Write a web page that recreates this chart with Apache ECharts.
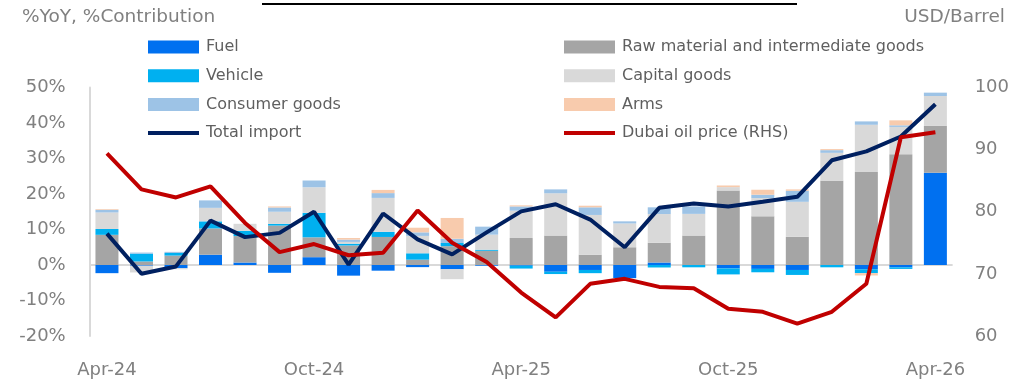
<!DOCTYPE html>
<html>
<head>
<meta charset="utf-8">
<script src="https://cdn.jsdelivr.net/npm/echarts@6/dist/echarts.min.js"></script>
<style>
html,body{margin:0;padding:0;background:#fff;}
#chart{width:1012px;height:379px;}
</style>
</head>
<body>
<div id="chart"></div>
<script>
const categories = ['Apr-24','May-24','Jun-24','Jul-24','Aug-24','Sep-24','Oct-24','Nov-24','Dec-24','Jan-25','Feb-25','Mar-25','Apr-25','May-25','Jun-25','Jul-25','Aug-25','Sep-25','Oct-25','Nov-25','Dec-25','Jan-26','Feb-26','Mar-26','Apr-26'];
const fuel     = [-2.3,-0.2,-0.9, 2.9, 0.7,-2.2, 2.2,-3.0,-1.6,-0.6,-1.2,-0.2,-0.2,-1.9,-1.4,-3.7, 0.7, 0.0,-0.95,-1.1,-1.4, 0.0,-1.2,-0.65,26.0];
const rawMat   = [ 8.5, 1.0, 2.65,7.4, 7.45,11.1,5.6, 5.5, 7.9, 1.5, 5.3, 4.0, 7.6, 8.3, 2.9, 5.0, 5.55,8.3, 21.0,13.7, 7.95,23.7,26.2,31.2,13.2];
const vehicle  = [ 1.65,2.2, 0.75,2.0, 1.45,0.5, 6.9, 0.5, 1.45,1.8, 0.9, 0.3,-0.8,-0.65,-0.9,0.0,-0.7,-0.65,-1.7,-0.95,-1.4,-0.65,-1.1,-0.45,0.0];
const capital  = [ 4.65,-1.9,-0.3,3.8, 2.0, 3.4, 7.2, 0.5, 9.55,4.9,-2.8, 4.25,7.7,11.9,11.2, 6.7, 8.1, 6.1, 0.95,5.15, 9.85,7.9,13.3, 7.7, 8.4];
const consumer = [ 0.75,0.3, 0.3, 2.1, 0.0, 1.2, 1.9, 0.65,1.35,1.0, 1.2, 2.25,1.2, 1.1, 2.15,0.6, 1.9, 2.1, 0.0, 0.95, 3.1, 0.75,0.95,0.45,0.95];
const arms     = [ 0.2, 0.0, 0.0, 0.0, 0.0, 0.3, 0.0, 0.45,0.9, 1.3, 5.85,0.0, 0.3, 0.0, 0.45,0.0, 0.0, 0.0, 0.45,1.4, 0.4, 0.3,-0.65,1.4, 0.0];
const totalImport = [8.85,-2.45,-0.4,12.5,7.85,9.05,15.0,0.1,14.5,7.2,3.0,9.2,15.1,17.1,12.8,5.0,16.1,17.3,16.5,17.8,19.2,29.5,32.0,36.2,45.3];
const dubaiOil = [89.4,83.6,82.3,84.1,78.2,73.5,74.8,73.0,73.4,80.2,75.0,71.9,67.0,63.0,68.4,69.2,67.9,67.7,64.4,63.9,62.0,63.9,68.4,92.0,92.8];
const leftTicks = {min:-20, max:50, interval:10};
const rightTicks = {min:60, max:100, interval:10};

const FONT = 'DejaVu Sans';
const chart = echarts.init(document.getElementById('chart'), null, {renderer:'canvas'});

function barSeries(name, data, color) {
  return {name, type:'bar', stack:'c', data, barWidth:23, yAxisIndex:0,
    itemStyle:{color}, emphasis:{disabled:true}};
}
const series = [
  barSeries('Fuel', fuel, '#0070F0'),
  barSeries('Raw material and intermediate goods', rawMat, '#A5A5A5'),
  barSeries('Vehicle', vehicle, '#00B0F0'),
  barSeries('Capital goods', capital, '#D9D9D9'),
  barSeries('Consumer goods', consumer, '#9DC3E6'),
  barSeries('Arms', arms, '#F8CBAD'),
  {name:'Total import', type:'line', data: totalImport, yAxisIndex:0, symbol:'none',
    lineStyle:{color:'#002060', width:4}, itemStyle:{color:'#002060'}, z:5},
  {name:'Dubai oil price (RHS)', type:'line', data: dubaiOil, yAxisIndex:1, symbol:'none',
    lineStyle:{color:'#C00000', width:4}, itemStyle:{color:'#C00000'}, z:6}
];
series[0].markLine = {silent:true, symbol:['none','none'], label:{show:false},
  lineStyle:{color:'#D9D9D9', width:2, type:'solid'}, data:[{yAxis:0}], z:1};

const LINE_ICON = 'path://M0,0 L51,0 L51,4 L0,4 Z';
const legendCommon = {orient:'vertical', padding:0, icon:'rect', itemWidth:51, itemHeight:13, itemGap:12.7,
  textStyle:{fontFamily:FONT, fontSize:16, color:'#5f5f5f', lineHeight:16, padding:[0,0,0,2]},
  selectedMode:false};

chart.setOption({
  animation:false,
  textStyle:{fontFamily:FONT},
  grid:{left:89.7, right:57.5, top:87.5, bottom:42.5},
  legend:[
    Object.assign({left:148, top:39, data:['Fuel','Vehicle','Consumer goods',{name:'Total import', icon:LINE_ICON}]}, legendCommon),
    Object.assign({left:564, top:39, data:['Raw material and intermediate goods','Capital goods','Arms',{name:'Dubai oil price (RHS)', icon:LINE_ICON}]}, legendCommon)
  ],
  graphic:[
    {type:'text', left:22, top:8, style:{text:'%YoY, %Contribution', fontFamily:FONT, fontSize:18.5, fill:'#808080'}},
    {type:'text', right:7, top:8, style:{text:'USD/Barrel', fontFamily:FONT, fontSize:18.5, fill:'#808080'}},
    {type:'line', shape:{x1:262, y1:4, x2:797, y2:4}, style:{stroke:'#000', lineWidth:2}}
  ],
  xAxis:{type:'category', data:categories, boundaryGap:true,
    axisLine:{show:false}, axisTick:{show:false},
    axisLabel:{interval:5, fontFamily:FONT, fontSize:18, color:'#808080', margin:25}},
  yAxis:[
    {type:'value', min:leftTicks.min, max:leftTicks.max, interval:leftTicks.interval, position:'left',
      axisLine:{show:true, lineStyle:{color:'#D9D9D9', width:2}}, axisTick:{show:false}, splitLine:{show:false},
      axisLabel:{formatter:'{value}%', fontFamily:FONT, fontSize:18, color:'#808080', margin:24}},
    {type:'value', min:rightTicks.min, max:rightTicks.max, interval:rightTicks.interval, position:'right',
      axisLine:{show:false}, axisTick:{show:false}, splitLine:{show:false},
      axisLabel:{fontFamily:FONT, fontSize:18, color:'#808080', margin:22}}
  ],
  series
});
</script>
</body>
</html>
